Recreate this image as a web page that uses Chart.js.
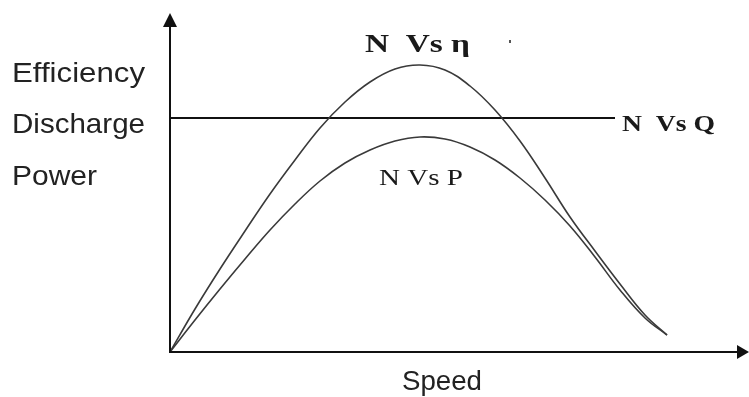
<!DOCTYPE html>
<html>
<head>
<meta charset="utf-8">
<script src="https://cdn.jsdelivr.net/npm/chart.js@4"></script>
<style>
  html, body { margin: 0; padding: 0; background: #fff; }
  #wrap { width: 749px; height: 397px; position: relative; }
</style>
</head>
<body>
<div id="wrap"><canvas id="pumpChart"></canvas></div>
<script>
// Values (speed and ordinate in arbitrary units)
const speed = [0, 25, 50, 75, 100, 125, 150, 175, 200, 225, 250, 275, 300, 325, 350, 375, 400, 425, 450, 475, 497];
const efficiency = [0, 43, 83, 121, 158, 192, 224, 250, 270, 283, 287, 282, 266, 242, 211, 174, 135, 101, 68, 37, 17];
const power = [0, 32, 63, 93, 122, 148, 171, 189, 202, 211, 215, 213, 205, 192, 174, 152, 126, 95, 62, 34, 17];

const dischargeSpeed = [0, 445];
const discharge = [234, 234];

const yLabels = ['Efficiency', 'Discharge', 'Power'];

const toPoints = (xs, ys) => xs.map((x, i) => ({ x: x, y: ys[i] }));

// Axes with arrows, and all the text
const decorPlugin = {
    id: 'decor',
    afterDraw(chart) {
        const ctx = chart.ctx;
        const xs = chart.scales.x;
        const ys = chart.scales.y;
        const x0 = xs.getPixelForValue(0);
        const y0 = ys.getPixelForValue(0);
        const xEnd = xs.right;
        const yTop = ys.top;

        ctx.save();
        ctx.strokeStyle = '#111';
        ctx.fillStyle = '#111';
        ctx.lineWidth = 2;
        ctx.beginPath();
        ctx.moveTo(x0, y0);
        ctx.lineTo(x0, yTop + 12);
        ctx.moveTo(x0 - 1, y0);
        ctx.lineTo(xEnd - 10, y0);
        ctx.stroke();

        // arrow heads
        ctx.beginPath();
        ctx.moveTo(x0, yTop);
        ctx.lineTo(x0 - 7, yTop + 14);
        ctx.lineTo(x0 + 7, yTop + 14);
        ctx.closePath();
        ctx.fill();
        ctx.beginPath();
        ctx.moveTo(xEnd, y0);
        ctx.lineTo(xEnd - 12, y0 - 7);
        ctx.lineTo(xEnd - 12, y0 + 7);
        ctx.closePath();
        ctx.fill();

        // helper: draw text stretched to a given width
        function fitText(txt, left, base, width, font, color) {
            ctx.font = font;
            ctx.fillStyle = color;
            ctx.textBaseline = 'alphabetic';
            ctx.textAlign = 'left';
            const w = ctx.measureText(txt).width;
            ctx.save();
            ctx.translate(left, base);
            ctx.scale(width / w, 1);
            ctx.fillText(txt, 0, 0);
            ctx.restore();
        }

        const sans = '28px "Liberation Sans", Arial, sans-serif';
        fitText(yLabels[0], 12, 82, 133, sans, '#222');
        fitText(yLabels[1], 12, 133, 133, sans, '#222');
        fitText(yLabels[2], 12, 185, 85, sans, '#222');
        fitText('Speed', 402, 390, 80, sans, '#222');

        fitText('N  Vs η', 365, 52, 105, 'bold 25px "Liberation Serif", "DejaVu Serif", serif', '#1a1a1a');
        fitText('N  Vs Q', 622, 131, 93, 'bold 24px "Liberation Serif", "DejaVu Serif", serif', '#1a1a1a');
        fitText('N Vs P', 379, 185, 84, '24px "Liberation Serif", "DejaVu Serif", serif', '#1a1a1a');

        // small stray mark next to the efficiency label
        ctx.fillStyle = '#555';
        ctx.fillRect(509, 40, 2, 3);
        ctx.restore();
    }
};

function initChart() {
    const ctx = document.getElementById('pumpChart').getContext('2d');

    const config = {
        type: 'scatter',
        data: {
            datasets: [
                {
                    label: 'N Vs η',
                    data: toPoints(speed, efficiency),
                    showLine: true,
                    borderColor: '#3a3a3a',
                    borderWidth: 1.6,
                    pointRadius: 0,
                    tension: 0.4
                },
                {
                    label: 'N Vs P',
                    data: toPoints(speed, power),
                    showLine: true,
                    borderColor: '#3a3a3a',
                    borderWidth: 1.6,
                    pointRadius: 0,
                    tension: 0.4
                },
                {
                    label: 'N Vs Q',
                    data: toPoints(dischargeSpeed, discharge),
                    showLine: true,
                    borderColor: '#111',
                    borderWidth: 2,
                    pointRadius: 0
                }
            ]
        },
        options: {
            responsive: true,
            maintainAspectRatio: false,
            animation: false,
            layout: { padding: { left: 170, right: 0, top: 13, bottom: 45 } },
            scales: {
                x: { type: 'linear', min: 0, max: 579, display: false },
                y: { type: 'linear', min: 0, max: 339, display: false }
            },
            plugins: {
                legend: { display: false },
                tooltip: { enabled: false }
            }
        },
        plugins: [decorPlugin]
    };

    new Chart(ctx, config);
}

document.addEventListener('DOMContentLoaded', initChart);
</script>
</body>
</html>
